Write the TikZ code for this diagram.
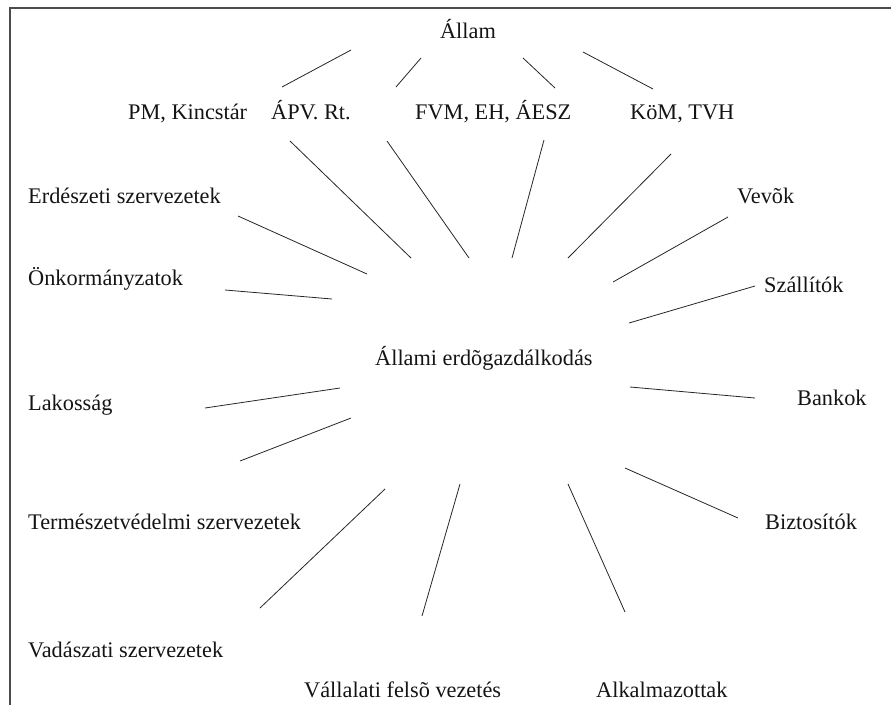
\documentclass[tikz,border=0pt]{standalone}
\usepackage{fontspec}
\setmainfont{Liberation Serif}
\begin{document}
\begin{tikzpicture}[x=1pt,y=-1pt,
  lbl/.style={inner sep=0pt,anchor=base west,font=\fontsize{22.3}{26}\selectfont,text=black!92},
  link/.style={line width=0.8pt,black!85},
  frame/.style={line width=1.4pt,black!70}]
\useasboundingbox (0,0) rectangle (891,705);
\draw[frame] (10,705) -- (10,8) -- (891,8);
% labels
\node[lbl,anchor=base] (allam) at (468,38) {Állam};
\node[lbl] (pm) at (128,119) {PM, Kincstár};
\node[lbl] (apv) at (271,119) {ÁPV. Rt.};
\node[lbl] (fvm) at (415,119) {FVM, EH, ÁESZ};
\node[lbl] (kom) at (630,119) {KöM, TVH};
\node[lbl] (erd) at (28,203) {Erdészeti szervezetek};
\node[lbl] (vevok) at (737,203) {Vevõk};
\node[lbl] (onk) at (28,285) {Önkormányzatok};
\node[lbl] (szall) at (764,292) {Szállítók};
\node[lbl] (center) at (375,365) {Állami erdõgazdálkodás};
\node[lbl] (lak) at (28,410) {Lakosság};
\node[lbl] (bank) at (797,405) {Bankok};
\node[lbl] (term) at (28,529) {Természetvédelmi szervezetek};
\node[lbl] (bizt) at (765,529) {Biztosítók};
\node[lbl] (vad) at (28,657) {Vadászati szervezetek};
\node[lbl] (vall) at (304,697) {Vállalati felsõ vezetés};
\node[lbl] (alk) at (596,697) {Alkalmazottak};
% connector end points
\coordinate (a1) at (282,87);  \coordinate (a1e) at (351,50);
\coordinate (a2) at (396,87);  \coordinate (a2e) at (421,58);
\coordinate (a3) at (555,88);  \coordinate (a3e) at (523,58);
\coordinate (a4) at (653,89);  \coordinate (a4e) at (583,52);
\coordinate (r1) at (290,141); \coordinate (r1e) at (411,258);
\coordinate (r2) at (387,141); \coordinate (r2e) at (469,258);
\coordinate (r3) at (544,140); \coordinate (r3e) at (512,258);
\coordinate (r4) at (671,154); \coordinate (r4e) at (568,258);
\coordinate (r5) at (238,216); \coordinate (r5e) at (367,274);
\coordinate (r6) at (728,217); \coordinate (r6e) at (613,282);
\coordinate (r7) at (225,290); \coordinate (r7e) at (332,299);
\coordinate (r8) at (755,286); \coordinate (r8e) at (629,323);
\coordinate (r9) at (205,408); \coordinate (r9e) at (340,388);
\coordinate (r10) at (755,398); \coordinate (r10e) at (630,387);
\coordinate (r11) at (240,461); \coordinate (r11e) at (351,418);
\coordinate (r12) at (738,518); \coordinate (r12e) at (625,468);
\coordinate (r13) at (260,608); \coordinate (r13e) at (385,489);
\coordinate (r14) at (422,616); \coordinate (r14e) at (460,484);
\coordinate (r15) at (625,612); \coordinate (r15e) at (568,484);
\foreach \s in {a1,a2,a3,a4,r1,r2,r3,r4,r5,r6,r7,r8,r9,r10,r11,r12,r13,r14,r15}
  \draw[link] (\s) -- (\s e);
\end{tikzpicture}
\end{document}
